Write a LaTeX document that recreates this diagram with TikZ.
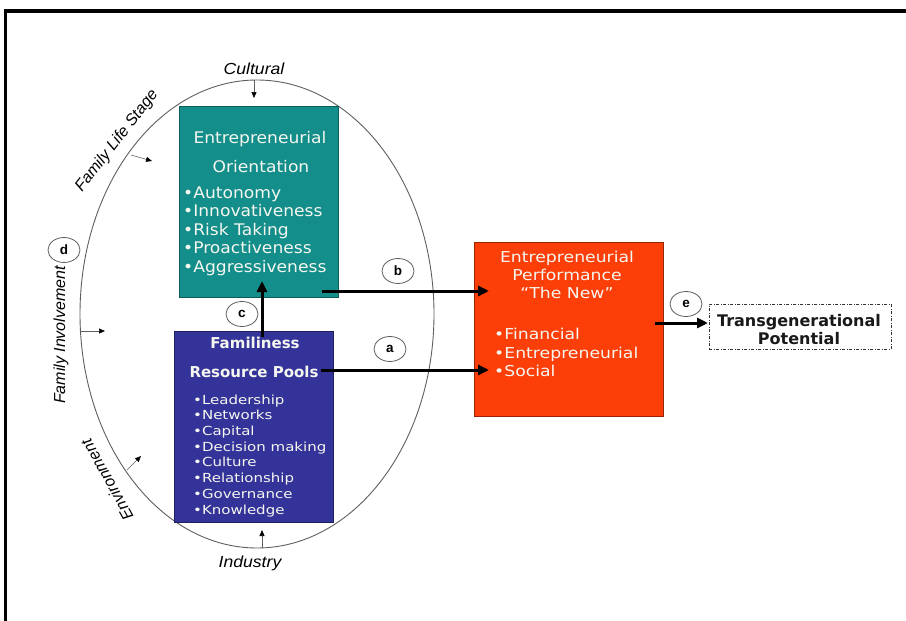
\documentclass[tikz,border=0pt]{standalone}
\usepackage{fontspec}
\setmainfont{DejaVu Sans}
\newfontfamily\eofont{DejaVu Sans}[FakeStretch=1.07]
\newfontfamily\listfont{DejaVu Sans}[FakeStretch=1.2]
\newfontfamily\redfont{DejaVu Sans}[FakeStretch=1.15]
\newfontfamily\lblfont{Liberation Sans}
\newfontfamily\lblwide{Liberation Sans}[FakeStretch=1.1]
\usetikzlibrary{arrows.meta,shapes.geometric}
\definecolor{eoteal}{RGB}{19,142,138}
\definecolor{famblue}{RGB}{51,51,153}
\definecolor{perfred}{RGB}{252,62,8}
\definecolor{boxwhite}{RGB}{246,246,240}
\definecolor{ringgray}{RGB}{95,95,95}
\begin{document}
\begin{tikzpicture}[x=1pt,y=-1pt,
  box/.style={rectangle, inner sep=0, anchor=north west, line width=0.8pt},
  eotxt/.style={text=boxwhite, inner sep=0, font={\eofont\fontsize{16}{18}\selectfont}},
  famtitle/.style={text=boxwhite, inner sep=0, font={\bfseries\fontsize{15}{18}\selectfont}},
  famtxt/.style={text=boxwhite, inner sep=0, font={\listfont\fontsize{12.5}{15}\selectfont}},
  perftxt/.style={text=boxwhite, inner sep=0, font={\redfont\fontsize{15}{18}\selectfont}},
  tptxt/.style={text=black!90, inner sep=0, font={\bfseries\fontsize{16}{18}\selectfont}},
  lbl/.style={inner sep=0, font={\lblfont\itshape\fontsize{16}{18}\selectfont}},
  lblw/.style={inner sep=0, font={\lblwide\itshape\fontsize{16}{18}\selectfont}},
  lettercirc/.style={ellipse, draw=ringgray, line width=0.8pt, minimum width=32, minimum height=25, inner sep=0, font={\lblfont\bfseries\fontsize{13.5}{13.5}\selectfont}},
  bigarrow/.style={line width=3pt, -{Triangle[length=11pt,width=10pt]}},
  smallarrow/.style={line width=0.6pt, draw=ringgray, -{Triangle[length=6pt,width=5pt,color=black,fill=black]}}
]
\useasboundingbox (0,0) rectangle (906,621);
\fill[white] (0,0) rectangle (906,621);
% frame
\draw[line width=4pt] (4,11) -- (906,11);
\draw[line width=3.5pt] (5.5,9) -- (5.5,621);

% ring
\node[ellipse, draw=ringgray, line width=0.9pt, minimum width=354, minimum height=468, inner sep=0] (ring) at (257,314) {};

% boxes
\node[box, fill=eoteal, draw=eoteal!65!black, minimum width=159, minimum height=191] (eo) at (179,106) {};
\node[box, fill=famblue, draw=famblue!60!black, minimum width=159, minimum height=191] (fam) at (174,331) {};
\node[box, fill=perfred, draw=perfred!60!black, minimum width=189, minimum height=174] (perf) at (474,242) {};
\node[box, draw=black!80, line width=0.8pt, dash pattern=on 3pt off 1.5pt on 1pt off 1.5pt, minimum width=182, minimum height=45] (tp) at (709,304) {};

% EO text
\node[eotxt, anchor=base] (eo1) at (260,143) {Entrepreneurial};
\node[eotxt, anchor=base] (eo2) at (261,172) {Orientation};
\foreach \t/\y [count=\i] in {Autonomy/198,Innovativeness/216.5,Risk Taking/235,Proactiveness/253.5,Aggressiveness/272}
  \node[eotxt, anchor=base west] (eol\i) at (183,\y) {\textbullet\t};

% Familiness text
\node[famtitle, anchor=base] (fam1) at (255,348) {Familiness};
\node[famtitle, anchor=base] (fam2) at (254,377) {Resource Pools};
\foreach \t/\y [count=\i] in {Leadership/404,Networks/419.7,Capital/435.4,Decision making/451.1,Culture/466.8,Relationship/482.5,Governance/498.2,Knowledge/514}
  \node[famtxt, anchor=base west] (faml\i) at (193,\y) {\textbullet\t};

% Performance text
\node[perftxt, anchor=base] (p1) at (567,262) {Entrepreneurial};
\node[perftxt, anchor=base] (p2) at (567,280) {Performance};
\node[perftxt, anchor=base] (p3) at (567,298) {“The New”};
\foreach \t/\y [count=\i] in {Financial/339,Entrepreneurial/358,Social/376}
  \node[perftxt, anchor=base west] (pl\i) at (494,\y) {\textbullet\t};

% Transgenerational text
\node[tptxt, anchor=base] (tp1) at (799,326) {Transgenerational};
\node[tptxt, anchor=base] (tp2) at (799,344) {Potential};

% outer labels
\node[lblw, anchor=base] (cult) at (254,74) {Cultural};
\node[lblw, anchor=base] (ind) at (250,567) {Industry};
\node[lbl, rotate=90] (finv) at (61,335) {Family Involvement};
\node[lbl, rotate=52] (fls) at (117,141) {Family Life Stage};
\node[lbl, rotate=119] (env) at (107,480) {Environment};

% small arrows
\coordinate (cultA) at (254,80);   \coordinate (cultB) at (254,98);
\coordinate (flsA) at (131,155);   \coordinate (flsB) at (152,161);
\coordinate (fiA) at (80,331);     \coordinate (fiB) at (105,331);
\coordinate (envA) at (127,470);   \coordinate (envB) at (141,456);
\coordinate (indA) at (262,548);   \coordinate (indB) at (262,530);
\draw[smallarrow] (cultA) -- (cultB);
\draw[smallarrow] (flsA) -- (flsB);
\draw[smallarrow] (fiA) -- (fiB);
\draw[smallarrow] (envA) -- (envB);
\draw[smallarrow] (indA) -- (indB);

% main arrows
\coordinate (bS) at (322,291); \coordinate (bE) at (489,291);
\coordinate (aS) at (321,370); \coordinate (aE) at (489,370);
\coordinate (cS) at (262,337); \coordinate (cE) at (262,281);
\coordinate (eS) at (655,323); \coordinate (eE) at (708,323);
\draw[bigarrow] (bS) -- (bE);
\draw[bigarrow] (aS) -- (aE);
\draw[bigarrow] (cS) -- (cE);
\draw[bigarrow] (eS) -- (eE);

% letter circles
\node[lettercirc] (la) at (390,349) {a};
\node[lettercirc] (lb) at (398,271) {b};
\node[lettercirc] (lc) at (242,314) {c};
\node[lettercirc] (ld) at (64,250) {d};
\node[lettercirc] (le) at (686,304) {e};
\end{tikzpicture}
\end{document}
